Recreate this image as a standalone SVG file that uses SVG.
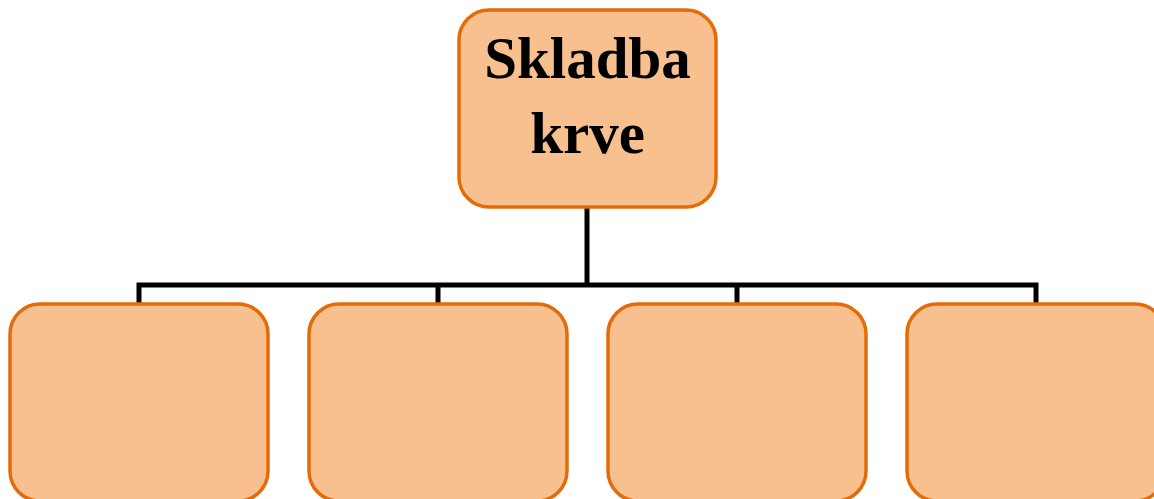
<svg xmlns="http://www.w3.org/2000/svg" width="1154" height="499" viewBox="0 0 1154 499">
<style>
.box{fill:#F8BF8F;stroke:#E36C0A;stroke-width:3.5}
.conn{fill:none;stroke:#000;stroke-width:5}
.t{font-family:"Liberation Serif",serif;font-weight:bold;font-size:59px;fill:#000;text-anchor:middle}
</style>
<g id="connectors">
<path class="conn" d="M587 207 V285 M139 304 V285 H1036 V304 M438 285 V304 M737 285 V304"/>
</g>
<g id="root">
<rect class="box" x="459" y="10" width="257" height="197" rx="30"/>
<text class="t" x="587.5" y="78">Skladba</text>
<text class="t" x="587.5" y="153">krve</text>
</g>
<g id="child1"><rect class="box" x="10" y="304" width="258" height="197" rx="30"/></g>
<g id="child2"><rect class="box" x="309" y="304" width="258" height="197" rx="30"/></g>
<g id="child3"><rect class="box" x="608" y="304" width="258" height="197" rx="30"/></g>
<g id="child4"><rect class="box" x="907" y="304" width="258" height="197" rx="30"/></g>
</svg>
